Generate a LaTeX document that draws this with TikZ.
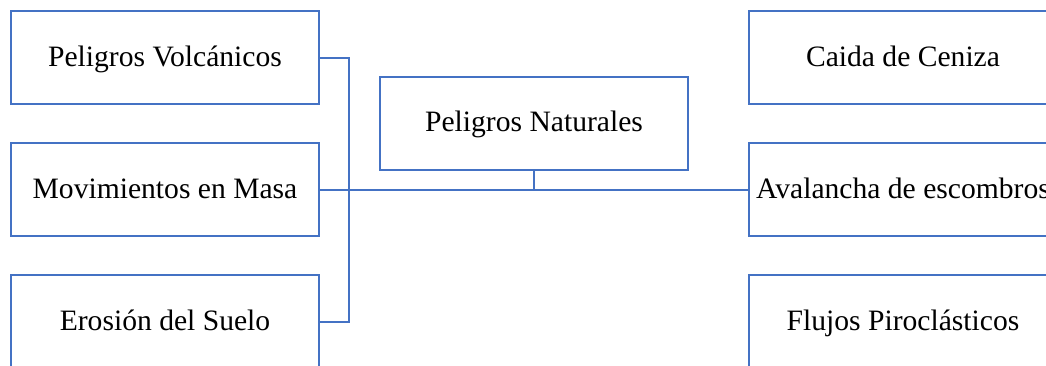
\documentclass[tikz,border=0pt]{standalone}
\usepackage{fontspec}
\setmainfont{Liberation Serif}
\definecolor{boxblue}{HTML}{4472C4}
\begin{document}
\begin{tikzpicture}[x=1pt,y=-1pt,
  hbox/.style={draw=boxblue,line width=2pt,rectangle,minimum width=308pt,minimum height=93pt,inner sep=0pt,text height=21pt,text depth=4pt,font=\fontsize{29.6}{34}\selectfont,text=black},
  conn/.style={draw=boxblue,line width=2pt}]
\useasboundingbox (0,0) rectangle (1046,365);
\clip (0,0) rectangle (1046,365);
\node[hbox] (l1) at (165,57.5) {Peligros Volcánicos};
\node[hbox] (l2) at (165,189.5) {Movimientos en Masa};
\node[hbox] (l3) at (165,321.5) {Erosión del Suelo};
\node[hbox] (m) at (534,123) {Peligros Naturales};
\node[hbox] (r1) at (903,57.5) {Caida de Ceniza};
\node[hbox] (r2) at (903,189.5) {Avalancha de escombros};
\node[hbox] (r3) at (903,321.5) {Flujos Piroclásticos};
\coordinate (bus) at (349,0);
\draw[conn] (l1.east) -- (l1.east -| bus) -- (l3.east -| bus) -- (l3.east);
\draw[conn] (l2.east) -- (r2.west);
\draw[conn] (m.south) -- (m.south |- l2.east);
\end{tikzpicture}
\end{document}
